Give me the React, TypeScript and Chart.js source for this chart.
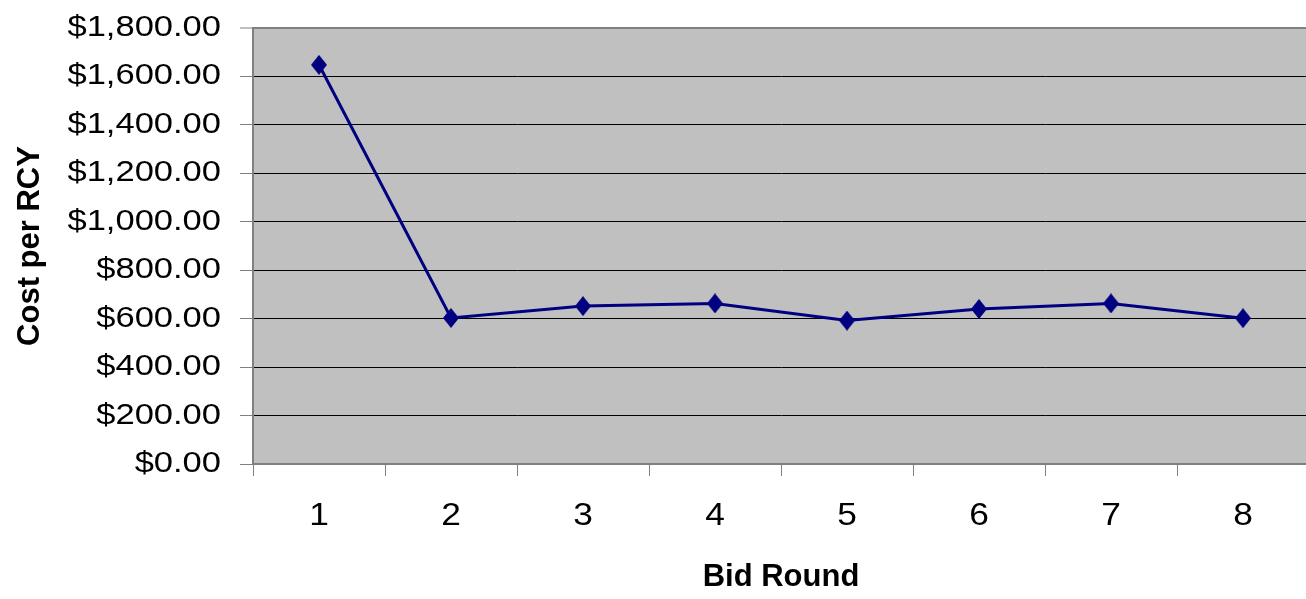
import React, { useEffect, useRef } from 'react';
import { Chart, registerables } from 'chart.js';

Chart.register(...registerables);

// ---- data ----
const categories: string[] = ['1', '2', '3', '4', '5', '6', '7', '8'];
const costPerRcy: number[] = [1648, 603, 652, 663, 592, 640, 663, 602];
const yMin = 0;
const yMax = 1800;
const yStep = 200;
const xTitle = 'Bid Round';
const yTitle = 'Cost per RCY';

// horizontal stretch applied to the (wide-looking) tick label text, keyed by font size
const STRETCH: Record<string, number> = { '29px': 1.19, '31px': 1.14 };

const FAMILY = '"Liberation Sans", Arial, sans-serif';

function makeDiamond(w: number, h: number, color: string): HTMLCanvasElement {
  const c = document.createElement('canvas');
  c.width = w;
  c.height = h;
  const g = c.getContext('2d')!;
  g.fillStyle = color;
  g.beginPath();
  g.moveTo(w / 2, 0);
  g.lineTo(w, h / 2);
  g.lineTo(w / 2, h);
  g.lineTo(0, h / 2);
  g.closePath();
  g.fill();
  return c;
}

const plotBg = {
  id: 'plotBg',
  beforeDraw(chart: any) {
    const { ctx, chartArea } = chart;
    if (!chartArea) return;
    ctx.save();
    ctx.fillStyle = '#C0C0C0';
    ctx.fillRect(chartArea.left, chartArea.top, chartArea.right - chartArea.left, chartArea.bottom - chartArea.top);
    ctx.restore();
  },
};

export default function App() {
  const ref = useRef<HTMLCanvasElement>(null);

  useEffect(() => {
    const canvas = ref.current!;
    const ctx = canvas.getContext('2d')! as any;
    const origFill = ctx.fillText;
    ctx.fillText = function (text: string, x: number, y: number, maxWidth?: number) {
      const font: string = ctx.font;
      const m = /(\d+)px/.exec(font);
      const k = m ? STRETCH[m[1] + 'px'] : undefined;
      if (k && !/bold|700/.test(font)) {
        ctx.save();
        ctx.translate(x, y);
        ctx.scale(k, 1);
        origFill.call(ctx, text, 0, 0);
        ctx.restore();
        return;
      }
      if (maxWidth === undefined) return origFill.call(ctx, text, x, y);
      return origFill.call(ctx, text, x, y, maxWidth);
    };

    const diamond = makeDiamond(16, 20, '#000080');

    const chart = new Chart(canvas, {
      type: 'line',
      data: {
        labels: categories,
        datasets: [
          {
            label: yTitle,
            data: costPerRcy,
            borderColor: '#000080',
            backgroundColor: '#000080',
            borderWidth: 3,
            pointStyle: diamond as any,
            pointRadius: 8,
            pointHoverRadius: 8,
            tension: 0,
            fill: false,
          },
        ],
      },
      options: {
        animation: false,
        responsive: true,
        maintainAspectRatio: false,
        layout: { padding: { top: 28, right: 2, left: 0, bottom: 0 } },
        plugins: {
          legend: { display: false },
          tooltip: { enabled: false },
        },
        scales: {
          x: {
            type: 'category',
            offset: true,
            grid: {
              offset: true,
              drawOnChartArea: false,
              drawTicks: true,
              tickLength: 12,
              tickColor: '#808080',
              tickWidth: 1,
            },
            border: { color: '#808080', width: 2 },
            ticks: {
              color: '#000',
              font: { family: FAMILY, size: 31 },
              padding: 22,
              maxRotation: 0,
              autoSkip: false,
            },
            title: {
              display: true,
              text: xTitle,
              color: '#000',
              font: { family: FAMILY, size: 31, weight: 'bold' },
              padding: { top: 0, bottom: 3 },
            },
            afterFit: (s: any) => {
              s.height = 135;
              s.paddingLeft = 0;
              s.paddingRight = 0;
            },
          } as any,
          y: {
            min: yMin,
            max: yMax,
            ticks: {
              stepSize: yStep,
              color: '#000',
              font: { family: FAMILY, size: 29 },
              padding: 19,
              callback: (v: any) =>
                '$' + Number(v).toLocaleString('en-US', { minimumFractionDigits: 2, maximumFractionDigits: 2 }),
            },
            grid: {
              color: (c: any) => (c.tick && c.tick.value === yMax ? '#808080' : '#000000'),
              lineWidth: (c: any) => (c.tick && c.tick.value === yMax ? 2 : 1),
              tickLength: 13,
              tickColor: '#808080',
              tickWidth: 1,
            },
            border: { color: '#808080', width: 2 },
            title: {
              display: true,
              text: yTitle,
              color: '#000',
              font: { family: FAMILY, size: 31, weight: 'bold' },
              padding: { top: 12, bottom: 0 },
            },
            afterFit: (s: any) => {
              s.width = 253;
              s.paddingTop = 0;
              s.paddingBottom = 0;
            },
          } as any,
        },
      },
      plugins: [plotBg],
    });

    return () => {
      chart.destroy();
      delete ctx.fillText;
    };
  }, []);

  return (
    <div
      style={{
        position: 'fixed',
        left: 0,
        top: 0,
        width: 1306,
        height: 599,
        overflow: 'hidden',
        background: '#ffffff',
      }}
    >
      <div style={{ position: 'relative', width: 1320, height: 599 }}>
        <canvas ref={ref} />
      </div>
    </div>
  );
}
